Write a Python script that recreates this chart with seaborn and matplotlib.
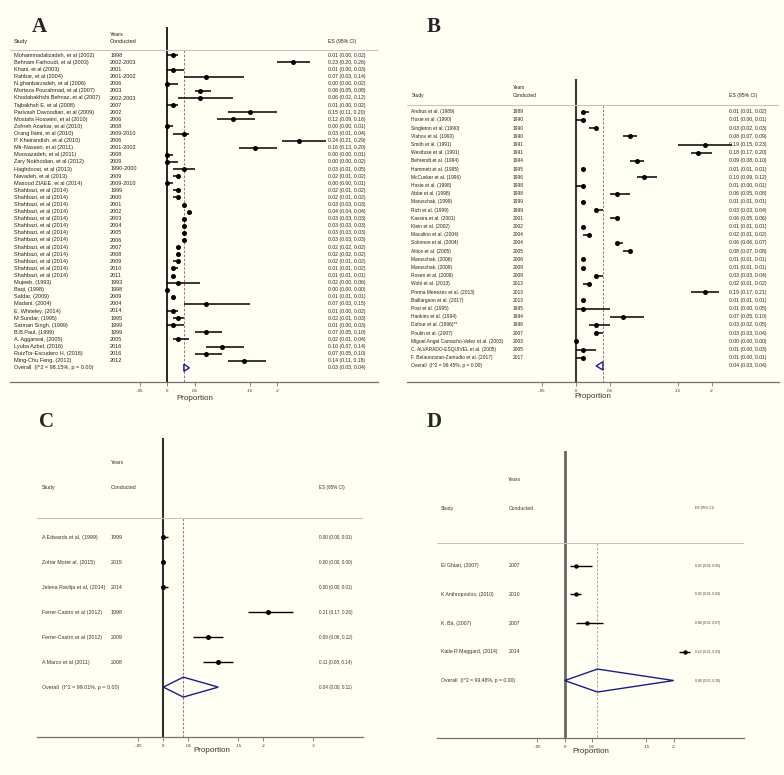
import numpy as np
import pandas as pd
import seaborn as sns
import matplotlib.pyplot as plt

# ---------------- data ----------------
# Panel A
a_study = ['Mohammadalizadeh, et al (2002)', 'Behnam Farhoudi, et al (2003)', 'Khani, et al (2003)',
           'Rahbar, et al (2004)', 'N.ghanbarzadeh, et al (2006)', 'Morteza Pourahmad, et al (2007)',
           'Khodabakhshi Behnaz, et al (2007)', 'Tajbakhsh E, et al (2008)', 'Parivash Davoodian, et al (2009)',
           'Mostafa Hosseini, et al (2010)', 'Zohreh Azarkar, et al (2010)', 'Orang Ilami, et al (2010)',
           'P. Kheirandish, et al (2010)', 'Mir-Nasseri, et al (2011)', 'Moosazadeh, et al (2011)',
           'Zary Nokhodian, et al (2012)', 'Haghdoost, et al (2013)', 'Navadeh, et al (2013)',
           'Masood ZIAEE, et al (2014)'] + ['Shahbazi, et al (2014)'] * 13 + [
           'Mujeeb, (1993)', 'Baqi, (1998)', 'Safdar, (2009)', 'Madani, (2004)', 'E. Whiteley, (2014)',
           'M Sundar, (1995)', 'Sarman Singh, (1999)', 'B.B.Paul, (1999)', 'A. Aggarwal, (2005)',
           'Lyuba Azbel, (2016)', 'RuizTor-Escudero H, (2016)', 'Ming-Chu Feng, (2012)']
a_years = ['1998', '2002-2003', '2001', '2001-2002', '2006', '2003', '2002-2003', '2007', '2002', '2006',
           '2008', '2009-2010', '2006', '2001-2002', '2008', '2009', '1990-2000', '2009', '2009-2010',
           '1999', '2000', '2001', '2002', '2003', '2004', '2005', '2006', '2007', '2008', '2009', '2010', '2011',
           '1993', '1998', '2009', '2004', '2014', '1995', '1999', '1999', '2005', '2016', '2016', '2012']
a_es = [0.01, 0.23, 0.01, 0.07, 0.00, 0.06, 0.06, 0.01, 0.15, 0.12, 0.00, 0.03, 0.24, 0.16, 0.00, 0.00,
        0.03, 0.02, 0.00, 0.02, 0.02, 0.03, 0.04, 0.03, 0.03, 0.03, 0.03, 0.02, 0.02, 0.02, 0.01, 0.01,
        0.02, 0.00, 0.01, 0.07, 0.01, 0.02, 0.01, 0.07, 0.02, 0.10, 0.07, 0.14]
a_lo = [0.00, 0.20, 0.00, 0.03, 0.00, 0.05, 0.02, 0.00, 0.11, 0.09, 0.00, 0.01, 0.21, 0.13, 0.00, 0.00,
        0.01, 0.01, 0.00, 0.01, 0.01, 0.03, 0.04, 0.03, 0.03, 0.03, 0.03, 0.02, 0.02, 0.01, 0.01, 0.01,
        0.00, 0.00, 0.01, 0.03, 0.00, 0.01, 0.00, 0.05, 0.01, 0.07, 0.05, 0.11]
a_hi = [0.02, 0.26, 0.03, 0.14, 0.02, 0.08, 0.12, 0.02, 0.20, 0.16, 0.01, 0.04, 0.29, 0.20, 0.01, 0.02,
        0.05, 0.02, 0.01, 0.02, 0.02, 0.03, 0.04, 0.03, 0.03, 0.03, 0.03, 0.02, 0.02, 0.02, 0.02, 0.01,
        0.06, 0.00, 0.01, 0.15, 0.02, 0.03, 0.03, 0.10, 0.04, 0.14, 0.10, 0.18]
a_overall = [0.03, 0.03, 0.04]
a_het = 'Overall  (I^2 = 98.15%, p = 0.00)'
a_ticks = [-0.05, 0, 0.05, 0.15, 0.2]
a_ticklabels = ['-.05', '0', '.05', '.15', '.2']

# Panel B
b_study = ['Andrus et al. (1989)', 'Hoxie et al. (1990)', 'Singleton et al. (1990)', 'Vlahov et al. (1990)',
           'Smith et al. (1991)', 'Westfuse et al. (1991)', 'Behrendt et al. (1994)', 'Hammett et al. (1995)',
           'McCusker et al. (1996)', 'Hoxie et al. (1998)', 'Abbe et al. (1998)', 'Maruschak, (1999)',
           'Rich et al. (1999)', 'Kassira et al. (2001)', 'Klein et al. (2002)', 'Macalino et al. (2004)',
           'Solomon et al. (2004)', 'Altice et al. (2005)', 'Maruschak, (2006)', 'Maruschak, (2009)',
           'Rosen et al. (2009)', 'Wohl et al. (2013)', 'Prema Menezes et al. (2013)',
           'Baillargeon et al. (2017)', 'Post et al. (1995)', 'Hankins et al. (1994)',
           'Dufour et al. (1996)**', 'Poulin et al. (2007)', 'Miguel Angel Camacho-Velez et al. (2003)',
           'C. ALVARADO-ESQUIVEL et al. (2005)', 'F. Belaunzaran-Zamudio et al. (2017)']
b_years = ['1989', '1990', '1990', '1990', '1991', '1991', '1994', '1995', '1996', '1998', '1998', '1999',
           '1999', '2001', '2002', '2004', '2004', '2005', '2006', '2009', '2009', '2013', '2013', '2013',
           '1995', '1994', '1996', '2007', '2003', '2005', '2017']
b_es = [0.01, 0.01, 0.03, 0.08, 0.19, 0.18, 0.09, 0.01, 0.10, 0.01, 0.06, 0.01, 0.03, 0.06, 0.01, 0.02,
        0.06, 0.08, 0.01, 0.01, 0.03, 0.02, 0.19, 0.01, 0.01, 0.07, 0.03, 0.03, 0.00, 0.01, 0.01]
b_lo = [0.01, 0.00, 0.02, 0.07, 0.15, 0.17, 0.08, 0.01, 0.09, 0.00, 0.05, 0.01, 0.03, 0.05, 0.01, 0.01,
        0.06, 0.07, 0.01, 0.01, 0.03, 0.01, 0.17, 0.01, 0.00, 0.05, 0.02, 0.03, 0.00, 0.00, 0.00]
b_hi = [0.02, 0.01, 0.03, 0.09, 0.23, 0.20, 0.10, 0.01, 0.12, 0.01, 0.08, 0.01, 0.04, 0.06, 0.01, 0.02,
        0.07, 0.08, 0.01, 0.01, 0.04, 0.02, 0.21, 0.01, 0.05, 0.10, 0.05, 0.04, 0.00, 0.03, 0.01]
b_overall = [0.04, 0.03, 0.04]
b_het = 'Overall  (I^2 = 99.45%, p = 0.00)'
b_ticks = [-0.05, 0, 0.05, 0.15, 0.2]
b_ticklabels = ['-.05', '0', '.05', '.15', '.2']

# Panel C
c_study = ['A Edwards et al, (1999)', 'Zohar Moret al, (2015)', 'Jelena Ravlija et al, (2014)',
           'Ferrer-Castro et al (2012)', 'Ferrer-Castro et al (2012)', 'A Marco et al (2011)']
c_years = ['1999', '2015', '2014', '1998', '2009', '2008']
c_es = [0.00, 0.00, 0.00, 0.21, 0.09, 0.11]
c_lo = [0.00, 0.00, 0.00, 0.17, 0.06, 0.08]
c_hi = [0.01, 0.00, 0.01, 0.26, 0.12, 0.14]
c_overall = [0.04, 0.00, 0.11]
c_het = 'Overall  (I^2 = 99.01%, p = 0.00)'
c_ticks = [-0.05, 0, 0.05, 0.15, 0.2, 0.3]
c_ticklabels = ['-.05', '0', '.05', '.15', '.2', '.3']

# Panel D
d_study = ['El Ghiari, (2007)', 'K Anthropoulos, (2010)', 'K. Bä, (2007)', 'Katie R Maggard, (2014)']
d_years = ['2007', '2010', '2007', '2014']
d_es = [0.02, 0.02, 0.04, 0.22]
d_lo = [0.01, 0.01, 0.02, 0.21]
d_hi = [0.05, 0.03, 0.07, 0.23]
d_overall = [0.06, 0.00, 0.20]
d_het = 'Overall  (I^2 = 99.48%, p = 0.00)'
d_ticks = [-0.05, 0, 0.05, 0.15, 0.2]
d_ticklabels = ['-.05', '0', '.05', '.15', '.2']

# ---------------- drawing ----------------
sns.set_style('white')
plt.rcParams['font.family'] = ['Liberation Sans', 'DejaVu Sans']
BG = '#fffff4'

W, H = 784, 775
fig = plt.figure(figsize=(W / 100, H / 100), dpi=100)
fig.patch.set_facecolor(BG)


def px_axes(x0, y0, x1, y1):
    ax = fig.add_axes([x0 / W, 1 - y1 / H, (x1 - x0) / W, (y1 - y0) / H])
    ax.set_facecolor('none')
    return ax


def forest(ax, study, years, es, lo, hi, overall, het, ticks, ticklabels, xlim, cols,
           fs=3.7, fs_es=3.7, zero_col='black', zero_lw=1.2, dash_col='#a8584a',
           ci_lw=1.1, ms=9, dia_h=0.45, xlab_x=0.05, xlab_off=12, tcol='#222222'):
    n = len(study)
    df = pd.DataFrame({'es': es, 'lo': lo, 'hi': hi, 'row': np.arange(n)})
    ax.hlines(df['row'], df['lo'], df['hi'], color='black', lw=ci_lw, zorder=2)
    sns.scatterplot(data=df, x='es', y='row', ax=ax, color='black', marker='o', s=ms,
                    linewidth=0, zorder=3, legend=False)
    ax.set_xlim(*xlim)
    ax.set_ylim(n + 2, -4)
    ax.set_xlabel('')
    ax.set_ylabel('')

    ov, olo, ohi = overall
    ax.axvline(0, color=zero_col, lw=zero_lw, zorder=1)
    ax.axhline(-0.8, color='#c4c4c4', lw=0.8)
    ax.vlines(ov, -0.8, n + 2, color=dash_col, lw=0.6, linestyles=(0, (3, 2)), zorder=1)
    ax.fill([olo, ov, ohi, ov, olo], [n, n - dia_h, n, n + dia_h, n],
            facecolor='none', edgecolor='#1c1c82', lw=1.0, zorder=4)

    tr = ax.get_yaxis_transform()
    sx, yx, ex = cols
    ax.text(yx, -3, 'Years', transform=tr, fontsize=fs, va='center', color=tcol)
    ax.text(sx, -2, 'Study', transform=tr, fontsize=fs, va='center', color=tcol)
    ax.text(yx, -2, 'Conducted', transform=tr, fontsize=fs, va='center', color=tcol)
    ax.text(ex, -2, 'ES (95% CI)', transform=tr, fontsize=fs_es, va='center', color=tcol)
    for i in range(n):
        ax.text(sx, i, study[i], transform=tr, fontsize=fs, va='center', color=tcol)
        ax.text(yx, i, years[i], transform=tr, fontsize=fs, va='center', color=tcol)
        ax.text(ex, i, f'{es[i]:.2f} ({lo[i]:.2f}, {hi[i]:.2f})', transform=tr,
                fontsize=fs_es, va='center', color=tcol)
    ax.text(sx, n, het, transform=tr, fontsize=fs, va='center', color=tcol)
    ax.text(ex, n, f'{ov:.2f} ({olo:.2f}, {ohi:.2f})', transform=tr,
            fontsize=fs_es, va='center', color=tcol)

    for s in ['top', 'left', 'right']:
        ax.spines[s].set_visible(False)
    ax.spines['bottom'].set_color('#707070')
    ax.spines['bottom'].set_linewidth(0.9)
    ax.set_yticks([])
    ax.set_xticks(ticks)
    ax.set_xticklabels(ticklabels)
    ax.tick_params(axis='x', direction='out', length=3, width=0.6, color='#707070',
                   labelsize=3.2, pad=2, labelcolor='#333333', bottom=True)
    ax.annotate('Proportion', xy=(xlab_x, 0), xycoords=('data', 'axes fraction'),
                xytext=(0, -xlab_off), textcoords='offset points', ha='center', va='center',
                fontsize=5.8, color='#333333')


axA = px_axes(10, 27, 378, 382)
forest(axA, a_study, a_years, a_es, a_lo, a_hi, a_overall, a_het, a_ticks, a_ticklabels,
       (-0.2874, 0.3845), (0.011, 0.272, 0.865), fs=4.0, fs_es=3.7,
       ms=13, dia_h=0.5, xlab_x=0.05, xlab_off=12)

axB = px_axes(407, 79, 779.3, 382.3)
forest(axB, b_study, b_years, b_es, b_lo, b_hi, b_overall, b_het, b_ticks, b_ticklabels,
       (-0.2481, 0.2994), (0.0115, 0.285, 0.866), fs=3.5, fs_es=3.7,
       zero_col='#3a3a3a', zero_lw=1.5, ms=13, dia_h=0.5, xlab_x=0.025, xlab_off=10.5)

axC = px_axes(36.7, 437.7, 362.7, 737)
forest(axC, c_study, c_years, c_es, c_lo, c_hi, c_overall, c_het, c_ticks, c_ticklabels,
       (-0.2532, 0.3988), (0.0153, 0.227, 0.866), fs=3.8, fs_es=3.3,
       zero_col='#303030', zero_lw=1.5, ci_lw=1.0, ms=13, dia_h=0.4, xlab_x=0.098, xlab_off=10,
       tcol='#333333')

axD = px_axes(437, 450.7, 743.7, 738)
forest(axD, d_study, d_years, d_es, d_lo, d_hi, d_overall, d_het, d_ticks, d_ticklabels,
       (-0.2343, 0.3284), (0.013, 0.2325, 0.842), fs=3.7, fs_es=2.4,
       zero_col='#666666', zero_lw=2.0, dash_col='#a09090', ci_lw=1.0, ms=10,
       dia_h=0.4, xlab_x=0.047, xlab_off=10, tcol='#333333')

# panel letters
for lab, x, y in [('A', 32, 32), ('B', 427, 31.7), ('C', 39, 427), ('D', 427, 427.3)]:
    fig.text(x / W, 1 - y / H, lab, fontsize=15, fontweight='bold', va='baseline',
             family=['Liberation Serif', 'DejaVu Serif'])

fig.savefig('out.png', dpi=100, facecolor=BG)
